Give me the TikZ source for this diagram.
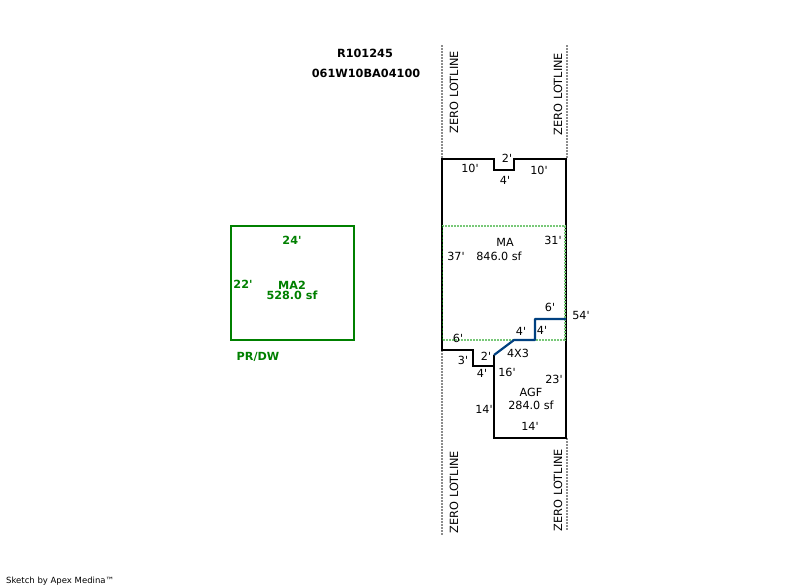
\documentclass[tikz,border=0pt]{standalone}
\usepackage{fontspec}
\newfontfamily\sketchfont{DejaVu Sans}
\definecolor{dimgreen}{RGB}{0,128,0}
\definecolor{lotgray}{RGB}{140,140,140}
\definecolor{dotgreen}{RGB}{120,200,120}
\definecolor{wallblue}{RGB}{0,64,128}
\tikzset{
  lab/.style={inner sep=0pt,font=\sketchfont\fontsize{11.2}{12}\selectfont,text=black},
  glab/.style={inner sep=0pt,font=\sketchfont\fontsize{11.2}{11}\selectfont\bfseries,text=dimgreen},
  head/.style={inner sep=0pt,font=\sketchfont\fontsize{11.3}{12}\selectfont\bfseries,text=black},
  lot/.style={inner sep=0pt,rotate=90,font=\sketchfont\fontsize{11.3}{12}\selectfont,text=black},
  lotline/.style={draw=lotgray,line width=2pt,dash pattern=on 2pt off 1pt},
  wall/.style={draw=black,line width=2.2pt,line cap=square,line join=miter},
  bluewall/.style={draw=wallblue,line width=2.2pt,line join=round},
  garea/.style={draw=dotgreen,line width=2pt,dash pattern=on 2pt off 1pt},
  mabox/.style={draw=dimgreen,line width=2.2pt,line join=miter}
}
\begin{document}
\begin{tikzpicture}[x=1pt,y=-1pt]
\useasboundingbox[fill=white] (0,0) rectangle (800,587);
% lot lines
\draw[lotline] (442,45) -- (442,159);
\draw[lotline] (442,350) -- (442,535);
\draw[lotline] (567,45) -- (567,159);
\draw[lotline] (567,438) -- (567,530);
% main outline
\draw[wall] (494,355) -- (494,366) -- (473,366) -- (473,350) -- (442,350) -- (442,159) -- (494,159) -- (494,170) -- (514,170) -- (514,159) -- (566,159) -- (566,438) -- (494,438) -- (494,366);
% green area
\draw[garea] (442,226) -- (565,226) -- (565,340) -- (442,340);
\draw[draw=dimgreen!70!black,line width=1pt,dash pattern=on 2pt off 1.5pt] (442,226) -- (442,340);
% blue wall
\draw[bluewall] (494,355) -- (514,340) -- (535,340) -- (535,319) -- (566,319);
% MA2
\draw[mabox] (231,226) rectangle (354,340);
% titles
\node[head] (t1) at (365,53) {R101245};
\node[head] (t2) at (366,73) {061W10BA04100};
% zero lotline
\node[lot] (z1) at (454,92) {ZERO LOTLINE};
\node[lot] (z2) at (558,94) {ZERO LOTLINE};
\node[lot] (z3) at (454,492) {ZERO LOTLINE};
\node[lot] (z4) at (558,490) {ZERO LOTLINE};
% main labels
\node[lab] (a1) at (507,158) {2'};
\node[lab] (a2) at (470,168) {10'};
\node[lab] (a3) at (539,170) {10'};
\node[lab] (a4) at (505,180) {4'};
\node[lab] (a5) at (505,242) {MA};
\node[lab] (a6) at (553,240) {31'};
\node[lab] (a7) at (456,256) {37'};
\node[lab] (a8) at (499,256) {846.0 sf};
\node[lab] (a9) at (550,307) {6'};
\node[lab] (a10) at (581,315) {54'};
\node[lab] (a11) at (521,331) {4'};
\node[lab] (a12) at (542,330) {4'};
\node[lab] (a13) at (458,338) {6'};
\node[lab] (a14) at (518,353) {4X3};
\node[lab] (a15) at (463,360) {3'};
\node[lab] (a16) at (486,356) {2'};
\node[lab] (a17) at (482,373) {4'};
\node[lab] (a18) at (507,372) {16'};
\node[lab] (a19) at (554,379) {23'};
\node[lab] (a20) at (531,392) {AGF};
\node[lab] (a21) at (531,405) {284.0 sf};
\node[lab] (a22) at (484,409) {14'};
\node[lab] (a23) at (530,426) {14'};
% MA2 labels
\node[glab] (g1) at (292,240) {24'};
\node[glab] (g2) at (243,284) {22'};
\node[glab] (g3) at (292,285) {MA2};
\node[glab] (g4) at (292,295) {528.0 sf};
\node[glab] (g5) at (258,357) {PR/DW};
% credit
\node[inner sep=0pt,anchor=west,font=\sketchfont\fontsize{8.5}{9}\selectfont] (c) at (6,581) {Sketch by Apex Medina™};
\end{tikzpicture}
\end{document}
